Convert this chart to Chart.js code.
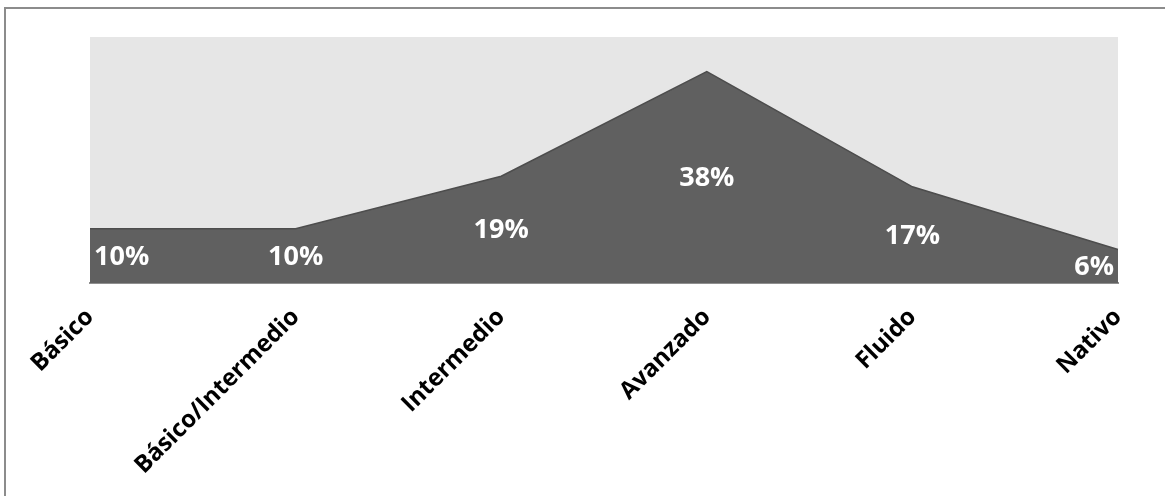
<!DOCTYPE html>
<html>
<head>
<meta charset="utf-8">
<script src="https://cdn.jsdelivr.net/npm/chart.js@4.4.1/dist/chart.umd.min.js"></script>
<style>
    html, body { margin: 0; padding: 0; background: #ffffff; }
    #frame {
        position: absolute; left: 4px; top: 7px; width: 1170px; height: 500px;
        border-top: 2px solid #8c8c8c; border-left: 2px solid #8c8c8c;
    }
    #wrap { position: absolute; left: 0; top: 0; width: 1165px; height: 496px; }
</style>
</head>
<body>
<div id="frame"></div>
<div id="wrap"><canvas id="level-chart"></canvas></div>
<script>
// Niveles y porcentajes
const levels = ["Básico", "Básico/Intermedio", "Intermedio", "Avanzado", "Fluido", "Nativo"];
const shares = [9.7, 9.7, 19.1, 37.8, 17.2, 6.0];
const shareLabels = ["10%", "10%", "19%", "38%", "17%", "6%"];
const yMax = 44;

// Fondo gris del área de trazado
const plotBackground = {
    id: "plotBackground",
    beforeDraw(chart) {
        const { ctx, chartArea } = chart;
        ctx.save();
        ctx.fillStyle = "#e6e6e6";
        ctx.fillRect(chartArea.left, chartArea.top, chartArea.right - chartArea.left, chartArea.bottom - chartArea.top);
        ctx.restore();
    }
};

// Etiquetas de datos en el centro vertical del área
const areaLabels = {
    id: "areaLabels",
    afterDatasetsDraw(chart) {
        const { ctx, chartArea } = chart;
        const meta = chart.getDatasetMeta(0);
        ctx.save();
        ctx.font = "bold 27px 'Open Sans'";
        ctx.fillStyle = "#ffffff";
        ctx.textBaseline = "middle";
        ctx.textAlign = "left";
        meta.data.forEach((pt, i) => {
            const text = shareLabels[i];
            const w = ctx.measureText(text).width;
            let x = pt.x - w / 2;
            if (x < chartArea.left + 4) x = chartArea.left + 4;
            if (x + w > chartArea.right - 4) x = chartArea.right - 4 - w;
            const y = (pt.y + chartArea.bottom) / 2 + 1;
            ctx.fillText(text, x, y);
        });
        ctx.restore();
    }
};

const canvas = document.getElementById("level-chart");
new Chart(canvas, {
    type: "line",
    data: {
        labels: levels,
        datasets: [{
            data: shares,
            fill: "origin",
            tension: 0,
            pointRadius: 0,
            borderWidth: 1.5,
            borderColor: "#4d4d4d",
            backgroundColor: "#606060"
        }]
    },
    options: {
        responsive: true,
        maintainAspectRatio: false,
        animation: false,
        layout: { padding: { left: 90, right: 47, top: 37, bottom: 0 } },
        scales: {
            x: {
                offset: false,
                grid: { display: false, drawTicks: false },
                border: { display: true, color: "#8f8f8f", width: 2 },
                ticks: {
                    color: "#000000",
                    font: { family: "'Open Sans'", weight: "bold", size: 24 },
                    minRotation: 45,
                    maxRotation: 45,
                    autoSkip: false,
                    padding: 20
                },
                afterFit(scale) { scale.height = 213; }
            },
            y: {
                display: false,
                min: 0,
                max: yMax
            }
        },
        plugins: {
            legend: { display: false },
            tooltip: { enabled: false }
        }
    },
    plugins: [plotBackground, areaLabels]
});
</script>
</body>
</html>
